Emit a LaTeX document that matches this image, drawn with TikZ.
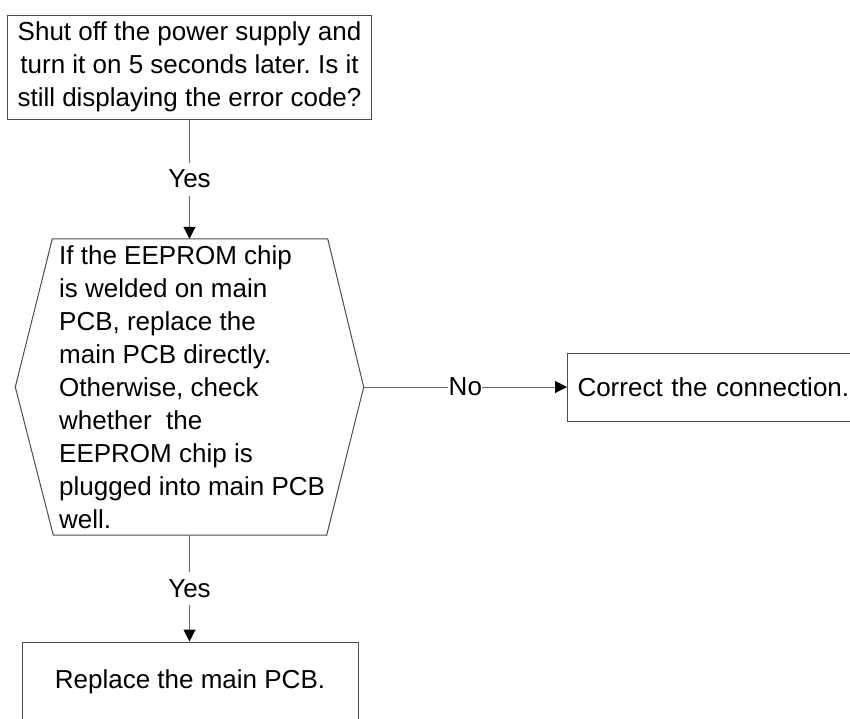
\documentclass[tikz,border=0pt]{standalone}
\usepackage{fontspec}
\setmainfont{Liberation Sans}
\usetikzlibrary{arrows.meta}
\frenchspacing
\tikzset{
  boxstyle/.style={draw=black!70, line width=1pt, inner sep=0pt, font=\fontsize{26}{33}\selectfont},
  conn/.style={draw=black!60, line width=1pt, -{Triangle[length=12pt,width=12pt,color=black]}},
  lbl/.style={fill=white, inner xsep=0.5pt, inner ysep=7.5pt, font=\fontsize{26}{33}\selectfont},
  txt/.style={font=\fontsize{26}{33}\selectfont, inner sep=0pt}
}
\begin{document}
\begin{tikzpicture}[x=1pt,y=-1pt]
\useasboundingbox (0,0) rectangle (850,718);
\clip (0,0) rectangle (850,718);
\fill[white] (0,0) rectangle (850,718);

\node[boxstyle, minimum width=364, minimum height=104, align=center] (top) at (189.5,67)
  {Shut off the power supply and\\turn it on 5 seconds later. Is it\\still displaying the error code?};

\node[minimum width=348, minimum height=296, inner sep=0pt] (hex) at (189.5,387) {};
\draw[draw=black!70, line width=1pt] (hex.west) -- ([xshift=37]hex.north west) -- ([xshift=-36]hex.north east)
  -- (hex.east) -- ([xshift=-37]hex.south east) -- ([xshift=38]hex.south west) -- cycle;
\node[txt, anchor=west, align=left] (hextext) at (59,387)
  {If the EEPROM chip\\is welded on main\\PCB, replace the\\main PCB directly.\\Otherwise, check\\whether\ \ the\\EEPROM chip is\\plugged into main PCB\\well.};

\node[boxstyle, anchor=west, minimum height=68, text width=310, inner xsep=10pt, align=left] (fix) at (567,387)
  {Correct the connection.};

\node[boxstyle, minimum width=336, minimum height=80, align=center] (rep) at (190,682)
  {Replace the main PCB.};

\draw[conn] (top.south) -- node[lbl] {Yes} (hex.north);
\draw[conn] (hex.east) -- node[lbl] {No} (fix.west);
\draw[conn] (hex.south) -- node[lbl] {Yes} (hex.south |- rep.north);
\end{tikzpicture}
\end{document}
